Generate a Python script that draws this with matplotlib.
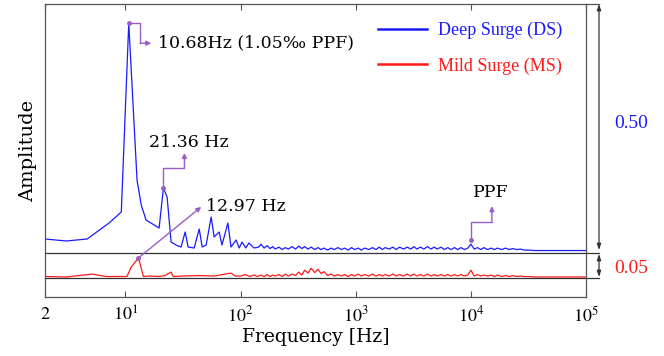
import numpy as np
import matplotlib
matplotlib.use("Agg")
import matplotlib.pyplot as plt

# ---- data (amplitude) ----
ds_freq = [2.0, 3.06, 4.65, 7.2, 9.2, 10.68, 12.6, 13.7, 15.1, 19.6, 21.36, 23.0, 24.9,
           27.5, 30.4, 33.0, 35.0, 39.5, 43.7, 46.4, 50.2, 55.5, 58.9, 65.1, 68.9, 77.5,
           82.5, 91.4, 97.3, 103, 111, 118, 131, 144,
           150, 160, 170, 180, 190, 200, 215, 230, 245, 260, 280, 300, 320, 340, 360, 385,
           410, 440, 470, 500, 530, 570, 610, 650, 700, 750, 800, 860, 920, 980, 1050, 1120,
           1200, 1300, 1400, 1500, 1600, 1700, 1800, 1950, 2100, 2250, 2400, 2600, 2800,
           3000, 3200, 3400, 3650, 3900, 4200, 4500, 4800, 5100, 5500, 5900, 6300, 6700,
           7200, 7700, 8200, 8800, 9400, 10000, 10700, 11400, 12200, 13000, 14000, 15000,
           16000, 17000, 18500, 20000, 21500, 23000, 25000, 27000, 29000, 32000, 36000,
           40000, 50000, 65000, 80000, 100000]
ds_amp = [0.0286, 0.0245, 0.0286, 0.0612, 0.0837, 0.469, 0.149, 0.098, 0.0673, 0.051,
          0.1327, 0.114, 0.0224, 0.0163, 0.0122, 0.0429, 0.0122, 0.0102, 0.049, 0.0122,
          0.0163, 0.0735, 0.0327, 0.0429, 0.0163, 0.0612, 0.0122, 0.0265, 0.0102, 0.0224,
          0.0102, 0.0204, 0.0102, 0.0122,
          0.018, 0.010, 0.015, 0.009, 0.013, 0.008, 0.012, 0.007, 0.011, 0.008, 0.013,
          0.008, 0.014, 0.009, 0.013, 0.008, 0.012, 0.007, 0.011, 0.007, 0.010, 0.006,
          0.010, 0.007, 0.011, 0.007, 0.010, 0.006, 0.011, 0.007, 0.010, 0.006, 0.010,
          0.007, 0.011, 0.007, 0.012, 0.007, 0.011, 0.008, 0.012, 0.007, 0.012, 0.008,
          0.012, 0.008, 0.013, 0.008, 0.012, 0.008, 0.013, 0.008, 0.012, 0.008, 0.012,
          0.007, 0.011, 0.007, 0.011, 0.007, 0.011, 0.007, 0.010, 0.018, 0.008, 0.011,
          0.007, 0.011, 0.007, 0.010, 0.007, 0.010, 0.007, 0.010, 0.007, 0.009, 0.007,
          0.008, 0.006, 0.006, 0.005, 0.005, 0.005, 0.005, 0.005, 0.005]

ms_freq = [2.0, 3.06, 5.14, 6.8, 8.8, 10.3, 11.2, 12.97, 13.7, 14.3, 16.0, 19.6, 22.0,
           24.9, 26.0, 32.0, 43.7, 58.9, 82.5, 90, 100, 110, 120, 130, 140,
           150, 160, 170, 180, 190, 200, 215, 230, 245, 260, 280, 300, 320, 340, 360, 385,
           410, 440, 470, 500, 530, 570, 610, 650, 700, 750, 800, 860, 920, 980, 1050, 1120,
           1200, 1300, 1400, 1500, 1600, 1700, 1800, 1950, 2100, 2250, 2400, 2600, 2800,
           3000, 3200, 3400, 3650, 3900, 4200, 4500, 4800, 5100, 5500, 5900, 6300, 6700,
           7200, 7700, 8200, 8800, 9400, 10000, 10700, 11400, 12200, 13000, 14000, 15000,
           16000, 17000, 18500, 20000, 21500, 23000, 25000, 27000, 29000, 32000, 36000,
           40000, 50000, 65000, 80000, 100000]
ms_amp = [0.003, 0.002, 0.008, 0.003, 0.003, 0.003, 0.022, 0.041, 0.020, 0.003, 0.004,
          0.003, 0.005, 0.012, 0.003, 0.004, 0.005, 0.004, 0.010, 0.004, 0.004, 0.007,
          0.003, 0.006, 0.003,
          0.006, 0.003, 0.007, 0.003, 0.006, 0.004, 0.007, 0.003, 0.008, 0.004, 0.008,
          0.005, 0.012, 0.006, 0.016, 0.010, 0.020, 0.011, 0.018, 0.009, 0.013, 0.005,
          0.008, 0.004, 0.007, 0.004, 0.007, 0.003, 0.007, 0.004, 0.008, 0.004, 0.007,
          0.004, 0.008, 0.004, 0.007, 0.004, 0.007, 0.004, 0.008, 0.004, 0.007, 0.004,
          0.008, 0.004, 0.008, 0.004, 0.007, 0.004, 0.008, 0.004, 0.007, 0.004, 0.007,
          0.004, 0.007, 0.004, 0.007, 0.004, 0.007, 0.004, 0.006, 0.016, 0.004, 0.007,
          0.004, 0.006, 0.004, 0.006, 0.003, 0.006, 0.003, 0.005, 0.003, 0.005, 0.003,
          0.004, 0.003, 0.003, 0.002, 0.002, 0.002, 0.002, 0.002, 0.002]

ds_offset = 0.0898   # baseline of the deep surge trace
ms_offset = 0.0388   # baseline of the mild surge trace
ds_scale = 0.50
ms_scale = 0.05
xticks = [2, 10, 100, 1000, 10000, 100000]
xtick_labels = ['$2$', '$10^1$', '$10^2$', '$10^3$', '$10^4$', '$10^5$']

BLUE = '#1a1aff'
RED = '#ff1a1a'
PURPLE = '#9a5cc6'
GRID = '#333333'

plt.rcParams['mathtext.fontset'] = 'stix'

fig = plt.figure(figsize=(6.64, 3.56), dpi=100)
ax = fig.add_axes([45 / 664, 59 / 356, 541 / 664, 293 / 356])

ax.plot(ds_freq, np.array(ds_amp) + ds_offset, color=BLUE, lw=0.9, label='Deep Surge (DS)')
ax.plot(ms_freq, np.array(ms_amp) + ms_offset, color=RED, lw=0.9, label='Mild Surge (MS)')

ax.set_xscale('log')
ax.set_xlim(2, 1e5)
ax.set_ylim(0, 0.598)
ax.set_xticks(xticks)
ax.set_xticklabels(xtick_labels, fontsize=13)
ax.minorticks_off()
ax.set_yticks([])
ax.tick_params(axis='x', direction='in', top=True, length=4, width=0.8, color='#555555', pad=6)
for sp in ax.spines.values():
    sp.set_color('#555555')
    sp.set_linewidth(0.9)

ax.set_xlabel('Frequency [Hz]', family='DejaVu Serif', fontsize=13.5, labelpad=2)
ax.set_ylabel('Amplitude', family='DejaVu Serif', fontsize=14, labelpad=6)

# baselines, top extension and scale bars on the right
xr = (599 - 45) / 541
trans = ax.get_yaxis_transform()
for yy in (ds_offset, ms_offset):
    ax.plot([0, xr], [yy, yy], color=GRID, lw=0.9, transform=trans, clip_on=False)
ax.plot([1, xr], [0.598, 0.598], color='#555555', lw=0.9, transform=trans, clip_on=False)

bar_style = dict(arrowstyle='<|-|>,head_length=0.35,head_width=0.12', color=GRID, lw=0.9,
                 shrinkA=0, shrinkB=0)
ax.annotate('', xy=(xr, 0.598), xytext=(xr, ds_offset + 0.006), xycoords=trans,
            textcoords=trans, arrowprops=bar_style, annotation_clip=False)
ax.annotate('', xy=(xr, ds_offset - 0.002), xytext=(xr, ms_offset + 0.002), xycoords=trans,
            textcoords=trans, arrowprops=bar_style, annotation_clip=False)
ax.text((631 - 45) / 541, (297 - 123) / 490, f'{ds_scale:.2f}', transform=trans, color=BLUE,
        family='Liberation Serif', fontsize=14, ha='center', va='center')
ax.text((631 - 45) / 541, (297 - 268) / 490, f'{ms_scale:.2f}', transform=trans, color=RED,
        family='Liberation Serif', fontsize=14, ha='center', va='center')

leg = ax.legend(loc='upper left', bbox_to_anchor=((378 - 45) / 541, (297 - 22) / 293),
                frameon=False, borderpad=0, borderaxespad=0, handlelength=2.7,
                handletextpad=0.6, labelspacing=1.0, labelcolor='linecolor',
                prop={'family': 'Liberation Serif', 'size': 13})
for line in leg.get_lines():
    line.set_linewidth(1.8)


def px_path(x0, y0, offsets):
    # offsets in pixels from the anchor point, y counted downwards
    bx, by = ax.transData.transform((x0, y0))
    pts = [(bx + dx, by - dy) for dx, dy in offsets]
    return ax.transData.inverted().transform(pts)


def callout(x0, y0, offsets):
    pts = px_path(x0, y0, offsets)
    ax.plot(pts[:-1, 0], pts[:-1, 1], color=PURPLE, lw=1, clip_on=False)
    ax.plot(pts[0, 0], pts[0, 1], 'o', color=PURPLE, ms=2.5)
    ax.annotate('', xy=pts[-1], xytext=pts[-2],
                arrowprops=dict(arrowstyle='-|>', color=PURPLE, lw=1, mutation_scale=7,
                                shrinkA=0, shrinkB=0))
    return pts[-1]


afont = dict(family='DejaVu Serif', fontsize=12.5, color='black')

# 10.68 Hz peak
p = callout(ds_freq[5], ds_amp[5] + ds_offset, [(0, 0), (11.5, 0), (11.5, 20), (22.5, 20)])
tp = px_path(ds_freq[5], ds_amp[5] + ds_offset, [(29.5, 20)])[0]
ax.text(tp[0], tp[1], '10.68Hz (1.05‰ PPF)', ha='left', va='center', **afont)

# 21.36 Hz harmonic
callout(ds_freq[10], ds_amp[10] + ds_offset, [(0, 0), (0, -20), (21, -20), (21, -35)])
tp = px_path(ds_freq[10], ds_amp[10] + ds_offset, [(-14, -45)])[0]
ax.text(tp[0], tp[1], '21.36 Hz', ha='left', va='center', **afont)

# 12.97 Hz mild surge peak
callout(ms_freq[7], ms_amp[7] + ms_offset, [(0, 0), (62.7, -51)])
tp = px_path(ms_freq[7], ms_amp[7] + ms_offset, [(67.7, -51)])[0]
ax.text(tp[0], tp[1], '12.97 Hz', ha='left', va='center', **afont)

# PPF at 10 kHz
i_ppf = ds_freq.index(10000)
callout(ds_freq[i_ppf], ds_amp[i_ppf] + ds_offset, [(0, -4), (0, -22), (21, -22), (21, -38)])
tp = px_path(ds_freq[i_ppf], ds_amp[i_ppf] + ds_offset, [(20, -52)])[0]
ax.text(tp[0], tp[1], 'PPF', ha='center', va='center', **afont)

fig.savefig('out.png', dpi=100)
